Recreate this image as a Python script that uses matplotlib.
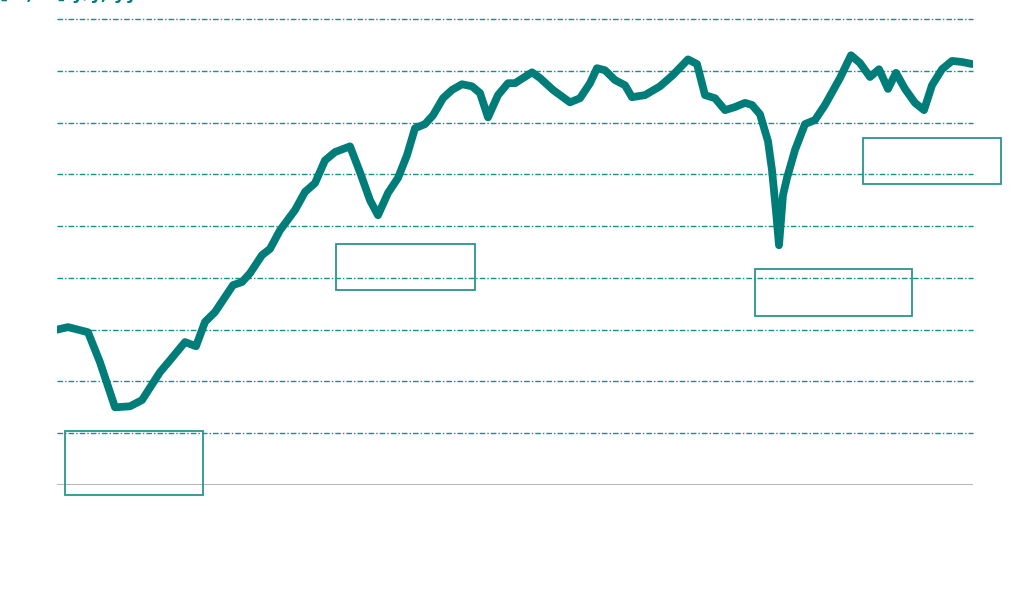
import matplotlib
matplotlib.use("Agg")
from matplotlib import pyplot as plt
from matplotlib.patches import Rectangle

# series (x in period units, y in gridline units)
t = [0, 11, 31, 43, 58, 73, 85, 103, 113, 128, 139, 148, 158, 176, 185, 193,
     205, 213, 223, 238, 248, 258, 268, 278, 293, 303, 313, 321, 331, 341,
     350, 358, 368, 376, 386, 395, 405, 415, 423, 431, 441, 451, 458, 475,
     483, 496, 513, 523, 533, 540, 548, 558, 568, 575, 588, 603, 616, 631,
     640, 648, 658, 668, 678, 688, 695, 703, 711, 715, 719, 722, 726, 730,
     738, 748, 758, 768, 783, 794, 803, 813, 822, 831, 839, 848, 858, 867,
     875, 885, 895, 905, 915]
val = [3.00, 3.05, 2.95, 2.37, 1.50, 1.52, 1.64, 2.18, 2.41, 2.76, 2.68,
       3.15, 3.34, 3.86, 3.92, 4.09, 4.44, 4.56, 4.92, 5.31, 5.66, 5.83,
       6.27, 6.43, 6.54, 6.04, 5.50, 5.21, 5.64, 5.93, 6.37, 6.89, 6.97,
       7.14, 7.47, 7.63, 7.74, 7.70, 7.57, 7.10, 7.53, 7.76, 7.76, 7.97,
       7.86, 7.63, 7.39, 7.47, 7.76, 8.05, 8.01, 7.82, 7.72, 7.49, 7.53,
       7.70, 7.92, 8.22, 8.13, 7.53, 7.47, 7.24, 7.30, 7.38, 7.34, 7.16,
       6.64, 6.08, 5.29, 4.63, 5.60, 5.93, 6.47, 6.97, 7.05, 7.34, 7.86,
       8.30, 8.15, 7.88, 8.03, 7.65, 7.96, 7.65, 7.38, 7.24, 7.72, 8.03,
       8.19, 8.17, 8.13]

# empty annotation boxes: (x, y, width, height)
boxes = [(8, -0.2, 138, 1.24),
         (279, 3.76, 139, 0.89),
         (698, 3.26, 157, 0.91),
         (806, 5.82, 138, 0.89)]

grid_vals = [1, 2, 3, 4, 5, 6, 7, 8, 9]

teal = '#007d78'
box_col = '#2a9590'

fig = plt.figure(figsize=(10.24, 5.97), dpi=100)
ax = fig.add_axes([57/1024, 112/597, 916/1024, 466/597])

for g in grid_vals:
    ax.axhline(g, color='#12908a', lw=1.0, ls='-.', dashes=(4, 1.5, 1, 1.5),
               clip_on=False, zorder=1)
ax.axhline(0, color='#a0a0a0', lw=1.8, zorder=1)

ax.plot(t, val, color=teal, lw=5.6, solid_capstyle='round',
        solid_joinstyle='round', zorder=3)

for (bx, by, bw, bh) in boxes:
    ax.add_patch(Rectangle((bx, by), bw, bh, fill=False, ec=box_col,
                           lw=1.3, clip_on=False, zorder=4))

ax.set_xlim(0, 916)
ax.set_ylim(0, 9)
ax.axis('off')

# title sits mostly above the canvas, only descenders show
fig.text(0.0, 1 + 1/597, '[%, %] y/y, yy', color=teal,
         fontsize=13, fontweight='bold', va='baseline', ha='left')

fig.savefig('out.png', dpi=100)
